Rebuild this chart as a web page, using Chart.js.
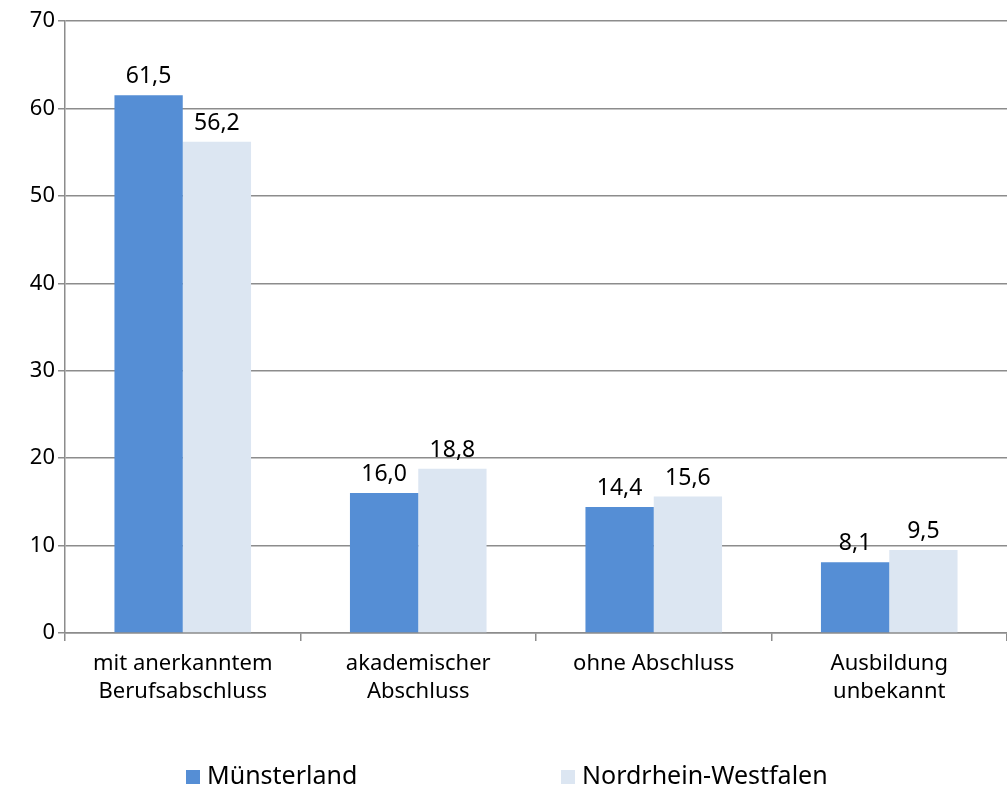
<!DOCTYPE html>
<html lang="de">
<head>
    <meta charset="UTF-8">
    <title>Ausbildung – Münsterland und NRW</title>
    <script src="https://cdn.jsdelivr.net/npm/chart.js"></script>
    <style>
        body {
            margin: 0;
            background-color: #ffffff;
        }
        canvas {
            display: block;
        }
    </style>
</head>
<body>
    <canvas id="chart" width="1007" height="789"></canvas>

    <script>
        // Daten
        const kategorien = [
            ['mit anerkanntem', 'Berufsabschluss'],
            ['akademischer', 'Abschluss'],
            'ohne Abschluss',
            ['Ausbildung', 'unbekannt']
        ];
        const muensterland = [61.5, 16.0, 14.4, 8.1];
        const nrw = [56.2, 18.8, 15.6, 9.5];
        const yTicks = [0, 10, 20, 30, 40, 50, 60, 70];

        const schrift = '"Noto Sans", "Open Sans", sans-serif';
        const gitterFarbe = '#8c8c8c';

        // Werte über den Balken, mit Komma
        const wertePlugin = {
            id: 'werte',
            afterDatasetsDraw(chart) {
                const ctx = chart.ctx;
                ctx.save();
                ctx.font = '23px ' + schrift;
                ctx.fillStyle = '#000';
                ctx.textAlign = 'center';
                ctx.textBaseline = 'alphabetic';
                chart.data.datasets.forEach((ds, i) => {
                    chart.getDatasetMeta(i).data.forEach((bar, j) => {
                        const txt = ds.data[j].toFixed(1).replace('.', ',');
                        ctx.fillText(txt, bar.x, bar.y - 12);
                    });
                });
                ctx.restore();
            }
        };

        // Legende unten, wie im Original weit auseinander
        const legendePlugin = {
            id: 'legende',
            afterDraw(chart) {
                const ctx = chart.ctx;
                const startX = [186, 561];
                const y = 777;
                ctx.save();
                ctx.font = '25px ' + schrift;
                ctx.textBaseline = 'middle';
                chart.data.datasets.forEach((ds, i) => {
                    ctx.fillStyle = ds.backgroundColor;
                    ctx.fillRect(startX[i], y - 7, 14, 14);
                    ctx.fillStyle = '#000';
                    ctx.fillText(ds.label, startX[i] + 21, y);
                });
                ctx.restore();
            }
        };

        const ctx = document.getElementById('chart').getContext('2d');

        new Chart(ctx, {
            type: 'bar',
            data: {
                labels: kategorien,
                datasets: [
                    {
                        label: 'Münsterland',
                        data: muensterland,
                        backgroundColor: '#558ed5',
                        categoryPercentage: 0.58,
                        barPercentage: 1.0
                    },
                    {
                        label: 'Nordrhein-Westfalen',
                        data: nrw,
                        backgroundColor: '#dce6f2',
                        categoryPercentage: 0.58,
                        barPercentage: 1.0
                    }
                ]
            },
            options: {
                responsive: false,
                animation: false,
                layout: { padding: { top: 21, right: 0, left: 0, bottom: 0 } },
                plugins: {
                    legend: { display: false },
                    tooltip: { enabled: false }
                },
                scales: {
                    x: {
                        grid: {
                            offset: true,
                            drawOnChartArea: false,
                            drawTicks: true,
                            tickLength: 8,
                            color: gitterFarbe,
                            lineWidth: 1.5
                        },
                        border: { color: gitterFarbe, width: 1.5 },
                        ticks: {
                            color: '#000',
                            font: { family: schrift, size: 22, lineHeight: 1.3 },
                            padding: 8,
                            maxRotation: 0
                        },
                        afterFit(scale) { scale.height = 156; }
                    },
                    y: {
                        min: 0,
                        max: 70,
                        afterBuildTicks(scale) {
                            scale.ticks = yTicks.map(v => ({ value: v }));
                        },
                        grid: {
                            color: gitterFarbe,
                            lineWidth: 1.5,
                            tickLength: 7
                        },
                        border: { color: gitterFarbe, width: 1.5 },
                        ticks: {
                            color: '#000',
                            font: { family: schrift, size: 22 },
                            padding: 3
                        },
                        afterFit(scale) { scale.width = 65; }
                    }
                }
            },
            plugins: [wertePlugin, legendePlugin]
        });
    </script>
</body>
</html>
